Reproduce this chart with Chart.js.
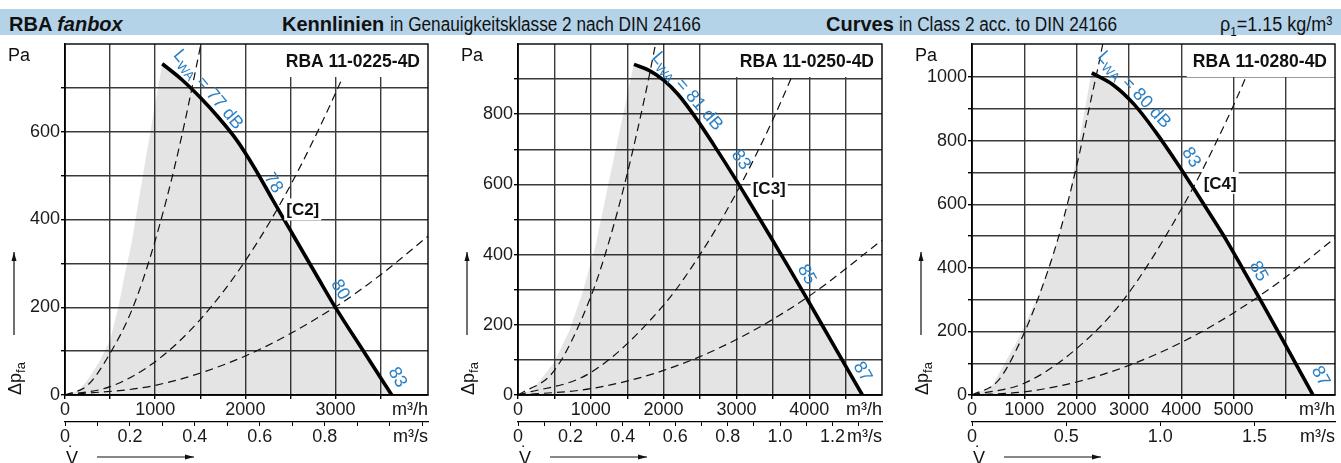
<!DOCTYPE html>
<html>
<head>
<meta charset="utf-8">
<script src="https://cdn.jsdelivr.net/npm/chart.js@4.4.1/dist/chart.umd.min.js"></script>
<style>
body { margin: 0; background: #fff; }
#page { position: relative; width: 1341px; height: 463px; overflow: hidden; font-family: 'Liberation Sans', Arial, sans-serif; color: #111; }
.band { position: absolute; left: 0; top: 9px; width: 1341px; height: 26px; background: #b4d3e8; }
.band span.t { position: absolute; top: 4px; font-size: 20px; line-height: 22px; white-space: nowrap; }
.nar { display: inline-block; transform: scaleX(0.86); transform-origin: 0 0; }
canvas { position: absolute; top: 36px; }
</style>
</head>
<body>
<div id="page">
  <div class="band">
    <span class="t" style="left:9px"><b>RBA <i>fanbox</i></b></span>
    <span class="t" style="left:282px"><b>Kennlinien</b> <span class="nar">in Genauigkeitsklasse 2 nach DIN 24166</span></span>
    <span class="t" style="left:826px"><b>Curves</b> <span class="nar">in Class 2 acc. to DIN 24166</span></span>
    <span class="t" style="left:1220px"><span class="nar" style="transform:scaleX(0.9)">ρ<sub style="font-size:13px">1</sub>=1.15 kg/m³</span></span>
  </div>
  <canvas id="c1" width="445" height="427" style="left:0px"></canvas>
  <canvas id="c2" width="445" height="427" style="left:450px"></canvas>
  <canvas id="c3" width="446" height="427" style="left:895px"></canvas>
</div>
<script>
// ---- RBA 11-0225-4D ----
const p1Name = 'RBA 11-0225-4D'
const p1Class = '[C2]'
const p1MaxV = 4025
const p1MaxP = 800
const p1FlowTicks = [0, 500, 1000, 1500, 2000, 2500, 3000, 3500]
const p1FlowLabels = [0, 1000, 2000, 3000]
const p1SecTicks = [0, 0.1, 0.2, 0.3, 0.4, 0.5, 0.6, 0.7, 0.8, 0.9, 1.0, 1.1]
const p1SecLabels = [0, 0.2, 0.4, 0.6, 0.8]
const p1PressTicks = [0, 100, 200, 300, 400, 500, 600, 700]
const p1PressLabels = [0, 200, 400, 600]
const p1StallV = [0, 150, 250, 380, 500, 594, 660, 735, 900, 1078]
const p1StallP = [0, 10, 34, 76, 125, 202, 272, 343, 545, 755]
const p1FanV = [1078, 1300, 1500, 1700, 1900, 2100, 2300, 2500, 2800, 3003, 3300, 3623]
const p1FanP = [755, 718, 678, 633, 582, 518, 446, 375, 269, 198, 103, 0]
const p1DashAV = [0, 250, 483, 750, 1000, 1250, 1500, 1530]
const p1DashAP = [0, 22, 89, 198, 352, 550, 793, 825]
const p1DashBV = [0, 500, 1000, 1500, 2000, 2500, 3000, 3300]
const p1DashBP = [0, 19, 76, 172, 306, 478, 688, 832]
const p1DashCV = [0, 1000, 2000, 3000, 3500, 4025]
const p1DashCP = [0, 22, 89, 201, 274, 362]
const p1Lwa = ['L', 'WA', ' = 77 dB']
const p1LevelText = ['', '78', '80', '83']
const p1LevelV = [1587, 2310, 3051, 3686]
const p1LevelP = [696, 483, 240, 40]

// ---- RBA 11-0250-4D ----
const p2Name = 'RBA 11-0250-4D'
const p2Class = '[C3]'
const p2MaxV = 5000
const p2MaxP = 1000
const p2FlowTicks = [0, 500, 1000, 1500, 2000, 2500, 3000, 3500, 4000, 4500]
const p2FlowLabels = [0, 1000, 2000, 3000, 4000]
const p2SecTicks = [0, 0.1, 0.2, 0.3, 0.4, 0.5, 0.6, 0.7, 0.8, 0.9, 1.0, 1.1, 1.2, 1.3]
const p2SecLabels = [0, 0.2, 0.4, 0.6, 0.8, 1.0, 1.2]
const p2PressTicks = [0, 100, 200, 300, 400, 500, 600, 700, 800, 900]
const p2PressLabels = [0, 200, 400, 600, 800]
const p2StallV = [0, 200, 486, 700, 898, 1070, 1250, 1447, 1590]
const p2StallP = [0, 15, 90, 180, 299, 430, 610, 801, 942]
const p2FanV = [1593, 1800, 2000, 2200, 2454, 2700, 2958, 3200, 3462, 3700, 3965, 4300, 4730]
const p2FanP = [942, 925, 897, 856, 786, 709, 625, 543, 453, 370, 276, 155, 0]
const p2DashAV = [0, 500, 1000, 1250, 1500, 1750, 1890, 1950]
const p2DashAP = [0, 70, 280, 437, 630, 857, 1000, 1060]
const p2DashBV = [0, 1000, 2000, 2500, 3000, 3500, 3950, 4100]
const p2DashBP = [0, 64, 256, 400, 576, 784, 1000, 1075]
const p2DashCV = [0, 1000, 2000, 3000, 4000, 5000]
const p2DashCP = [0, 18, 70, 158, 282, 441]
const p2Lwa = ['L', 'WA', ' = 81 dB']
const p2LevelText = ['', '83', '85', '87']
const p2LevelV = [2326, 3060, 3965, 4730]
const p2LevelP = [865, 670, 343, 66]

// ---- RBA 11-0280-4D ----
const p3Name = 'RBA 11-0280-4D'
const p3Class = '[C4]'
const p3MaxV = 6940
const p3MaxP = 1104
const p3FlowTicks = [0, 1000, 2000, 3000, 4000, 5000, 6000]
const p3FlowLabels = [0, 1000, 2000, 3000, 4000, 5000]
const p3SecTicks = [0, 0.5, 1.0, 1.5]
const p3SecLabels = [0, 0.5, 1.0, 1.5]
const p3PressTicks = [0, 100, 200, 300, 400, 500, 600, 700, 800, 900, 1000]
const p3PressLabels = [0, 200, 400, 600, 800, 1000]
const p3StallV = [0, 375, 876, 1320, 1637, 1828, 2050, 2280]
const p3StallP = [0, 27, 174, 331, 488, 593, 800, 1010]
const p3FanV = [2290, 2700, 3100, 3500, 3920, 4300, 4620, 4870, 5200, 5510, 6000, 6520]
const p3FanP = [1013, 975, 914, 830, 730, 634, 551, 485, 390, 300, 155, 0]
const p3DashAV = [0, 500, 940, 1300, 1650, 2000, 2250, 2500, 2550]
const p3DashAP = [0, 45, 174, 320, 495, 720, 910, 1104, 1150]
const p3DashBV = [0, 1000, 2000, 2900, 4000, 4800, 5300, 5500]
const p3DashBP = [0, 37, 146, 300, 584, 840, 1025, 1110]
const p3DashCV = [0, 1000, 2000, 3000, 4000, 5000, 6000, 6940]
const p3DashCP = [0, 10, 41, 93, 165, 258, 371, 494]
const p3Lwa = ['L', 'WA', ' = 80 dB']
const p3LevelText = ['', '83', '85', '87']
const p3LevelV = [3099, 4187, 5476, 6662]
const p3LevelP = [960, 747, 389, 59]

const BLUE = '#2b80c5'
const GRID = '#3a3a3a'
const FONT = "'Liberation Sans', Arial, sans-serif"

Chart.defaults.font.family = FONT
Chart.defaults.font.size = 18
Chart.defaults.color = '#1a1a1a'

function pts(xs, ys) {
    return xs.map((x, i) => ({ x: x, y: ys[i] }))
}

function hasVal(list, v) {
    return list.some(l => Math.abs(l - v) < 1e-6)
}

function arrow(ctx, x1, y1, x2, y2) {
    ctx.beginPath()
    ctx.moveTo(x1, y1)
    ctx.lineTo(x2, y2)
    ctx.stroke()
    const ang = Math.atan2(y2 - y1, x2 - x1)
    ctx.beginPath()
    ctx.moveTo(x2, y2)
    ctx.lineTo(x2 - 9 * Math.cos(ang) + 2.5 * Math.sin(ang), y2 - 9 * Math.sin(ang) - 2.5 * Math.cos(ang))
    ctx.lineTo(x2 - 9 * Math.cos(ang) - 2.5 * Math.sin(ang), y2 - 9 * Math.sin(ang) + 2.5 * Math.cos(ang))
    ctx.closePath()
    ctx.fill()
}

// text with a lowered subscript part, centred on (x, y), rotated by deg
function rotLabel(ctx, x, y, deg, parts) {
    ctx.save()
    ctx.translate(x, y)
    ctx.rotate(deg * Math.PI / 180)
    ctx.textBaseline = 'middle'
    ctx.textAlign = 'left'
    let w = 0
    parts.forEach((p, i) => {
        ctx.font = (i === 1 ? '13px ' : '18px ') + FONT
        w += ctx.measureText(p).width
    })
    let cx = -w / 2
    parts.forEach((p, i) => {
        ctx.font = (i === 1 ? '13px ' : '18px ') + FONT
        ctx.fillText(p, cx, i === 1 ? 6 : 0)
        cx += ctx.measureText(p).width
    })
    ctx.restore()
}

const decoPlugin = {
    id: 'deco',
    afterDraw(chart, args, o) {
        const ctx = chart.ctx
        const a = chart.chartArea
        const sx = chart.scales.x
        const sy = chart.scales.y
        ctx.save()

        // white knock-outs behind model name and class label
        ctx.font = 'bold 17.5px ' + FONT
        const nameW = ctx.measureText(o.name).width
        ctx.fillStyle = '#fff'
        ctx.fillRect(a.right - 8 - nameW - 6, a.top, nameW + 14, 33)
        ctx.font = 'bold 17px ' + FONT
        const cx = sx.getPixelForValue(o.classV)
        const cy = sy.getPixelForValue(o.classP)
        const cw = ctx.measureText(o.cls).width
        ctx.fillRect(cx - 2, cy - 11, cw + 4, 22)

        // plot frame
        ctx.strokeStyle = '#000'
        ctx.lineWidth = 1.4
        ctx.strokeRect(a.left, a.top, a.right - a.left, a.bottom - a.top)

        ctx.fillStyle = '#111'
        ctx.textBaseline = 'middle'
        ctx.font = 'bold 17.5px ' + FONT
        ctx.textAlign = 'right'
        ctx.fillText(o.name, a.right - 8, a.top + 18)
        ctx.font = 'bold 17px ' + FONT
        ctx.textAlign = 'left'
        ctx.fillText(o.cls, cx, cy + 1)

        // axis captions
        ctx.font = '18px ' + FONT
        ctx.textAlign = 'right'
        ctx.fillText('Pa', a.left - 35, a.top + 12)
        ctx.fillText('m³/h', a.right, a.bottom + 15)
        ctx.fillText('m³/s', a.right, a.bottom + 42)

        ctx.textAlign = 'left'
        ctx.textBaseline = 'alphabetic'
        ctx.fillText('V', a.left + 1, a.bottom + 69)
        ctx.fillText('\u02D9', a.left + 3, a.bottom + 64)
        ctx.strokeStyle = '#111'
        ctx.fillStyle = '#111'
        ctx.lineWidth = 1.2
        arrow(ctx, a.left + 32, a.bottom + 62, a.left + 129, a.bottom + 62)
        arrow(ctx, a.left - 51, a.bottom - 60, a.left - 51, a.bottom - 143)

        ctx.save()
        ctx.translate(a.left - 44, a.bottom)
        ctx.rotate(-Math.PI / 2)
        ctx.font = '18px ' + FONT
        ctx.fillText('\u0394p', 0, 0)
        const dw = ctx.measureText('\u0394p').width
        ctx.font = '13px ' + FONT
        ctx.fillText('fa', dw, 4)
        ctx.restore()

        // sound power levels along the fan curve
        ctx.fillStyle = BLUE
        o.levelText.forEach((t, i) => {
            const x = sx.getPixelForValue(o.levelV[i])
            const y = sy.getPixelForValue(o.levelP[i])
            if (i === 0) rotLabel(ctx, x, y, o.lwaAngle, o.lwa)
            else rotLabel(ctx, x, y, o.angles[i], [t])
        })
        ctx.restore()
    }
}

function makePanel(id, d) {
    const fill = pts(d.stallV, d.stallP).concat(pts(d.fanV, d.fanP))
    const dash = { borderColor: '#111', borderWidth: 1.2, borderDash: [8, 5], pointRadius: 0, fill: false, cubicInterpolationMode: 'monotone' }
    return new Chart(document.getElementById(id), {
        type: 'line',
        data: {
            datasets: [
                { data: fill, borderWidth: 0, pointRadius: 0, fill: 'origin', backgroundColor: 'rgba(0,0,0,0.105)', tension: 0 },
                Object.assign({ data: pts(d.aV, d.aP) }, dash),
                Object.assign({ data: pts(d.bV, d.bP) }, dash),
                Object.assign({ data: pts(d.cV, d.cP) }, dash),
                { data: pts(d.fanV, d.fanP), borderColor: '#000', borderWidth: 3.6, pointRadius: 0, fill: false, cubicInterpolationMode: 'monotone' }
            ]
        },
        options: {
            responsive: false,
            animation: false,
            layout: { padding: { left: 0, right: d.padR, top: 8, bottom: 13 } },
            plugins: {
                legend: { display: false },
                tooltip: { enabled: false },
                deco: {
                    name: d.name, cls: d.cls, classV: d.classV, classP: d.classP,
                    lwa: d.lwa, lwaAngle: d.lwaAngle, angles: d.angles,
                    levelText: d.levelText, levelV: d.levelV, levelP: d.levelP
                }
            },
            scales: {
                x: {
                    type: 'linear', position: 'bottom', min: 0, max: d.maxV,
                    afterBuildTicks: s => { s.ticks = d.flowTicks.map(v => ({ value: v })) },
                    ticks: {
                        autoSkip: false, maxRotation: 0, padding: 0,
                        callback: v => hasVal(d.flowLabels, v) ? String(v) : ''
                    },
                    grid: { color: GRID, lineWidth: 1.4, tickLength: 4, tickColor: '#000' },
                    border: { color: '#000', width: 1.4 },
                    afterFit: s => { s.height = 27; s.paddingLeft = 0; s.paddingRight = 0 }
                },
                x2: {
                    type: 'linear', position: 'bottom', min: 0, max: d.maxV / 3600,
                    afterBuildTicks: s => { s.ticks = d.secTicks.map(v => ({ value: v })) },
                    ticks: {
                        autoSkip: false, maxRotation: 0, padding: 0,
                        callback: v => hasVal(d.secLabels, v) ? (v === 0 ? '0' : v.toFixed(1)) : ''
                    },
                    grid: { drawOnChartArea: false, tickLength: 4, color: '#000' },
                    border: { color: '#000', width: 1.2 },
                    afterFit: s => { s.height = 28; s.paddingLeft = 0; s.paddingRight = 0 }
                },
                y: {
                    type: 'linear', position: 'left', min: 0, max: d.maxP,
                    afterBuildTicks: s => { s.ticks = d.pressTicks.map(v => ({ value: v })) },
                    ticks: {
                        autoSkip: false, padding: 1,
                        callback: v => hasVal(d.pressLabels, v) ? String(v) : ''
                    },
                    grid: { color: GRID, lineWidth: 1.4, tickLength: 4, tickColor: '#000' },
                    border: { color: '#000', width: 1.4 },
                    afterFit: s => { s.width = d.yW; s.paddingTop = 0; s.paddingBottom = 0 }
                }
            }
        },
        plugins: [decoPlugin]
    })
}

makePanel('c1', {
    name: p1Name, cls: p1Class, classV: 2453, classP: 423,
    maxV: p1MaxV, maxP: p1MaxP,
    flowTicks: p1FlowTicks, flowLabels: p1FlowLabels, secTicks: p1SecTicks, secLabels: p1SecLabels,
    pressTicks: p1PressTicks, pressLabels: p1PressLabels,
    yW: 65, padR: 17,
    stallV: p1StallV, stallP: p1StallP, fanV: p1FanV, fanP: p1FanP,
    aV: p1DashAV, aP: p1DashAP, bV: p1DashBV, bP: p1DashBP, cV: p1DashCV, cP: p1DashCP,
    lwa: p1Lwa, lwaAngle: 50, angles: [0, 58, 60, 60],
    levelText: p1LevelText, levelV: p1LevelV, levelP: p1LevelP
})

makePanel('c2', {
    name: p2Name, cls: p2Class, classV: 3224, classP: 588,
    maxV: p2MaxV, maxP: p2MaxP,
    flowTicks: p2FlowTicks, flowLabels: p2FlowLabels, secTicks: p2SecTicks, secLabels: p2SecLabels,
    pressTicks: p2PressTicks, pressLabels: p2PressLabels,
    yW: 68, padR: 13,
    stallV: p2StallV, stallP: p2StallP, fanV: p2FanV, fanP: p2FanP,
    aV: p2DashAV, aP: p2DashAP, bV: p2DashBV, bP: p2DashBP, cV: p2DashCV, cP: p2DashCP,
    lwa: p2Lwa, lwaAngle: 49, angles: [0, 55, 60, 60],
    levelText: p2LevelText, levelV: p2LevelV, levelP: p2LevelP
})

makePanel('c3', {
    name: p3Name, cls: p3Class, classV: 4429, classP: 667,
    maxV: p3MaxV, maxP: p3MaxP,
    flowTicks: p3FlowTicks, flowLabels: p3FlowLabels, secTicks: p3SecTicks, secLabels: p3SecLabels,
    pressTicks: p3PressTicks, pressLabels: p3PressLabels,
    yW: 77, padR: 6,
    stallV: p3StallV, stallP: p3StallP, fanV: p3FanV, fanP: p3FanP,
    aV: p3DashAV, aP: p3DashAP, bV: p3DashBV, bP: p3DashBP, cV: p3DashCV, cP: p3DashCP,
    lwa: p3Lwa, lwaAngle: 47, angles: [0, 57, 61, 61],
    levelText: p3LevelText, levelV: p3LevelV, levelP: p3LevelP
})
</script>
</body>
</html>
